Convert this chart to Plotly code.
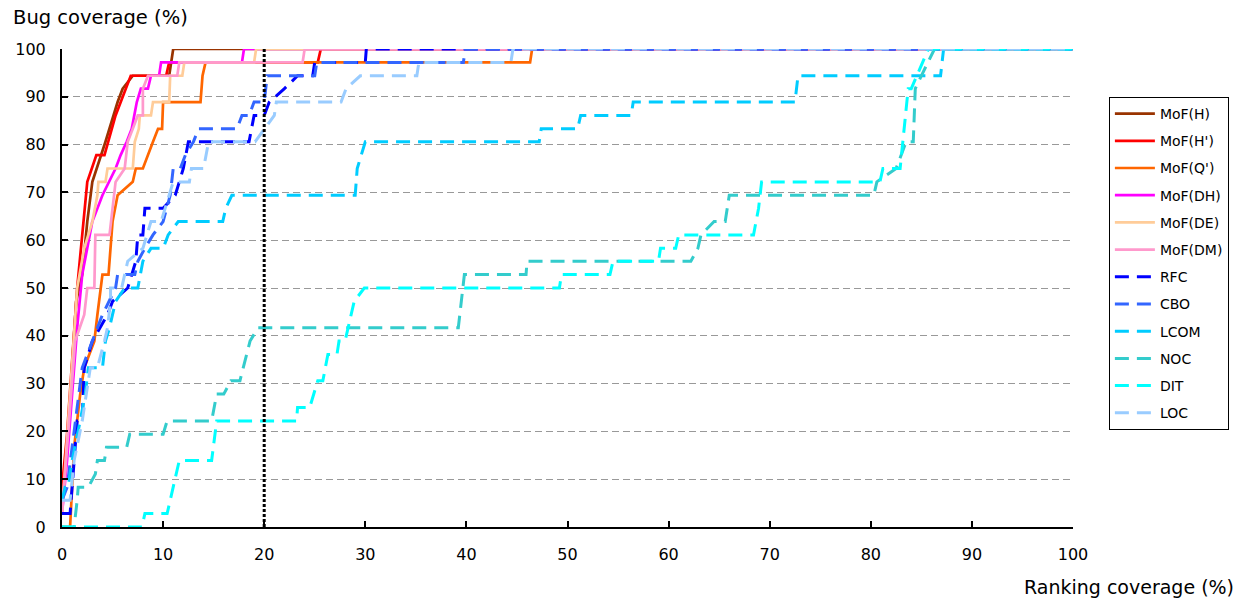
import plotly.graph_objects as go

# ---- data (x: ranking coverage %, y: bug coverage %) ----
mof_h_x = [0, 0.5, 1.4, 2.0, 2.5, 3.0, 4.3, 5.5, 6.0, 7.0, 10.6, 10.8, 11.0, 100]
mof_h_y = [5.6, 16.7, 47.2, 52.8, 63.9, 72.2, 80.6, 88.9, 91.7, 94.4, 94.4, 97.2, 100, 100]

mof_hp_x = [0, 0.5, 1.5, 2.1, 2.5, 3.4, 4.2, 5.3, 6.3, 6.8, 10.3, 10.6, 25.3, 25.6, 100]
mof_hp_y = [8.3, 19.4, 50, 63.9, 72.2, 77.8, 77.8, 86.1, 91.7, 94.4, 94.4, 97.2, 97.2, 100, 100]

mof_q_x = [0, 0.8, 1.2, 1.8, 2.2, 3.2, 3.5, 4.0, 4.6, 5.0, 5.5, 7.0, 7.3, 8.0, 9.0, 9.5, 9.9, 10.0, 13.7, 13.9, 14.2, 46.3, 46.5, 100]
mof_q_y = [0, 0, 16.7, 27.8, 33.3, 38.9, 44.4, 52.8, 52.8, 63.9, 69.4, 72.2, 75, 75, 80.6, 83.3, 83.3, 88.9, 88.9, 94.4, 97.2, 97.2, 100, 100]

mof_dh_x = [0, 0.5, 1.5, 2.0, 3.0, 4.0, 5.3, 5.8, 6.4, 6.9, 7.4, 7.8, 8.5, 8.8, 9.6, 9.8, 17.8, 18.0, 100]
mof_dh_y = [2.8, 13.9, 41.7, 52.8, 63.9, 69.4, 75, 77.8, 80.6, 83.3, 88.9, 91.7, 91.7, 94.4, 94.4, 97.2, 97.2, 100, 100]

mof_de_x = [0, 0.8, 1.5, 2.2, 3.0, 3.5, 3.6, 4.3, 4.5, 7.0, 7.2, 7.6, 7.7, 8.8, 9.0, 10.6, 10.7, 11.9, 12.1, 19.0, 19.2, 100]
mof_de_y = [2.8, 27.8, 50, 58.3, 63.9, 69.4, 72.2, 72.2, 75, 75, 80.6, 83.3, 86.1, 86.1, 88.9, 88.9, 94.4, 94.4, 97.2, 97.2, 100, 100]

mof_dm_x = [0, 0.5, 1.3, 2.2, 2.5, 3.2, 3.3, 4.7, 5.3, 6.2, 6.5, 7.0, 7.5, 8.0, 8.0, 8.5, 11.4, 11.6, 23.8, 24.0, 100]
mof_dm_y = [2.8, 16.7, 38.9, 44.4, 50, 50, 61.1, 61.1, 72.2, 75, 80.6, 83.3, 86.1, 86.1, 91.7, 94.4, 94.4, 97.2, 97.2, 100, 100]

rfc_x = [0, 0.8, 1.0, 1.5, 2.0, 2.2, 3.0, 4.5, 5.0, 6.5, 7.3, 7.5, 8.0, 8.2, 10.0, 11.2, 12.0, 12.5, 18.5, 19.0, 20.0, 20.5, 22.0, 23.3, 24.8, 25.0, 30.0, 30.1, 100]
rfc_y = [2.8, 2.8, 8.3, 22.2, 22.2, 33.3, 38.9, 44.4, 47.2, 50, 55.6, 61.1, 61.1, 66.7, 66.7, 69.4, 75, 80.6, 80.6, 86.1, 86.1, 88.9, 91.7, 94.4, 94.4, 97.2, 97.2, 100, 100]

cbo_x = [0, 0.5, 1.0, 1.5, 2.0, 3.0, 4.0, 5.3, 5.5, 7.2, 7.5, 8.2, 9.0, 10.0, 10.7, 11.0, 11.7, 12.2, 13.0, 13.5, 17.3, 17.8, 18.5, 19.0, 20.0, 20.3, 25.0, 25.2, 39.7, 39.9, 100]
cbo_y = [5.6, 8.3, 16.7, 25, 33.3, 38.9, 44.4, 50, 52.8, 52.8, 55.6, 58.3, 61.1, 63.9, 69.4, 75, 75, 77.8, 80.6, 83.3, 83.3, 86.1, 86.1, 88.9, 88.9, 94.4, 94.4, 97.2, 97.2, 100, 100]

lcom_x = [0, 0.3, 0.6, 1.0, 1.8, 2.3, 2.6, 4.0, 4.3, 4.7, 5.3, 6.2, 7.5, 8.0, 8.8, 10.0, 10.5, 11.5, 15.9, 16.2, 16.8, 29.0, 29.2, 30.0, 47.2, 47.4, 51.0, 51.3, 56.3, 56.5, 72.5, 72.8, 86.9, 87.2, 100]
lcom_y = [5.6, 8.3, 8.3, 13.9, 22.2, 27.8, 33.3, 33.3, 38.9, 41.7, 47.2, 50, 50, 55.6, 58.3, 58.3, 61.1, 63.9, 63.9, 66.7, 69.4, 69.4, 75, 80.6, 80.6, 83.3, 83.3, 86.1, 86.1, 88.9, 88.9, 94.4, 94.4, 100, 100]

noc_x = [0, 1.2, 1.5, 1.6, 2.6, 3.3, 3.5, 4.2, 4.4, 6.4, 6.7, 10.0, 10.4, 14.8, 15.3, 16.0, 16.7, 17.6, 18.6, 19.4, 39.2, 39.8, 45.9, 46.0, 62.2, 62.9, 63.2, 64.5, 65.6, 66.0, 80.3, 80.6, 82.5, 83.5, 84.2, 84.4, 85.0, 86.3, 100]
noc_y = [0, 0, 5.6, 8.3, 8.3, 11.1, 13.9, 13.9, 16.7, 16.7, 19.4, 19.4, 22.2, 22.2, 27.8, 27.8, 30.6, 30.6, 38.9, 41.7, 41.7, 52.8, 52.8, 55.6, 55.6, 58.3, 61.1, 63.9, 63.9, 69.4, 69.4, 72.2, 75, 80.6, 80.6, 91.7, 94.4, 100, 100]

dit_x = [0, 7.9, 8.2, 10.4, 11.6, 14.8, 15.3, 23.2, 23.3, 24.5, 25.3, 25.8, 26.3, 27.2, 27.4, 28.0, 28.9, 29.9, 49.2, 49.4, 54.2, 54.5, 59.0, 59.2, 60.7, 61.0, 68.4, 68.9, 69.2, 80.9, 81.2, 82.9, 83.7, 84.0, 85.7, 100]
dit_y = [0, 0, 2.8, 2.8, 13.9, 13.9, 22.2, 22.2, 25, 25, 30.6, 30.6, 36.1, 36.1, 38.9, 38.9, 47.2, 50, 50, 52.8, 52.8, 55.6, 55.6, 58.3, 58.3, 61.1, 61.1, 66.7, 72.2, 72.2, 75, 75, 91.7, 91.7, 100, 100]

loc_x = [0, 0.8, 1.2, 2.0, 2.8, 3.5, 4.2, 4.5, 4.8, 4.8, 5.9, 6.5, 8.0, 8.8, 9.8, 10.6, 11.0, 12.6, 12.8, 14.0, 14.5, 19.1, 20.0, 21.0, 21.2, 27.6, 28.1, 29.5, 35.1, 35.3, 44.4, 44.6, 100]
loc_y = [5.6, 5.6, 13.9, 22.2, 33.3, 33.3, 38.9, 41.7, 47.2, 50, 50, 55.6, 58.3, 63.9, 63.9, 69.4, 72.2, 72.2, 75, 75, 80.6, 80.6, 83.3, 86.1, 88.9, 88.9, 91.7, 94.4, 94.4, 97.2, 97.2, 100, 100]

series_names = ["MoF(H)", "MoF(H')", "MoF(Q')", "MoF(DH)", "MoF(DE)", "MoF(DM)",
                "RFC", "CBO", "LCOM", "NOC", "DIT", "LOC"]
series_x = [mof_h_x, mof_hp_x, mof_q_x, mof_dh_x, mof_de_x, mof_dm_x,
            rfc_x, cbo_x, lcom_x, noc_x, dit_x, loc_x]
series_y = [mof_h_y, mof_hp_y, mof_q_y, mof_dh_y, mof_de_y, mof_dm_y,
            rfc_y, cbo_y, lcom_y, noc_y, dit_y, loc_y]
colors = ["#993300", "#FF0000", "#FF6600", "#FF00FF", "#FFCC99", "#FF99CC",
          "#0000FF", "#3366FF", "#00CCFF", "#33CCCC", "#00FFFF", "#99CCFF"]
dashed = [False] * 6 + [True] * 6

tick_vals = [0, 10, 20, 30, 40, 50, 60, 70, 80, 90, 100]
threshold_x = 20

FONT = "DejaVu Sans"

fig = go.Figure()
for i, name in enumerate(series_names):
    fig.add_trace(go.Scatter(
        x=series_x[i], y=series_y[i], mode="lines", name=name,
        legendgroup=name,
        line=dict(color=colors[i], width=3 if dashed[i] else 2.7,
                  dash="14px,8px" if dashed[i] else "solid"),
    ))

fig.add_shape(type="line", x0=threshold_x, x1=threshold_x, y0=0, y1=100,
              xref="x", yref="y", line=dict(color="black", width=3, dash="3px,2px"))

fig.update_layout(
    width=1241, height=600,
    margin=dict(l=62, r=165, t=49, b=73),
    plot_bgcolor="white", paper_bgcolor="white",
    font=dict(family=FONT, size=16, color="black"),
    showlegend=True,
    legend=dict(x=1.0355, y=0.8996, xanchor="left", yanchor="top",
                bordercolor="black", borderwidth=1, bgcolor="white",
                font=dict(family=FONT, size=14), tracegroupgap=6,
                itemwidth=40),
    annotations=[
        dict(text="Bug coverage (%)", x=0, y=1, xref="paper", yref="paper",
             xshift=-51, yshift=32, xanchor="left", yanchor="middle",
             showarrow=False, font=dict(family=FONT, size=19.5)),
        dict(text="Ranking coverage (%)", x=1, y=0, xref="paper", yref="paper",
             xshift=163, yshift=-60, xanchor="right", yanchor="middle",
             showarrow=False, font=dict(family=FONT, size=19)),
    ],
)
fig.update_xaxes(range=[0, 100], tickvals=tick_vals, showgrid=False, zeroline=False,
                 showline=True, linecolor="black", linewidth=2,
                 ticks="inside", ticklen=6, tickcolor="black", tickwidth=1.5,
                 ticklabelstandoff=12,
                 tickfont=dict(family=FONT, size=16))
fig.update_yaxes(range=[0, 100], tickvals=tick_vals, showgrid=True, gridcolor="#999999",
                 griddash="7px,4px", gridwidth=1, zeroline=False,
                 showline=True, linecolor="black", linewidth=2,
                 ticks="inside", ticklen=6, tickcolor="black", tickwidth=1.5,
                 ticklabelstandoff=11,
                 tickfont=dict(family=FONT, size=16))

fig.write_html("out.html", config={"displayModeBar": False},
               post_script="document.body.style.margin='0px';")
